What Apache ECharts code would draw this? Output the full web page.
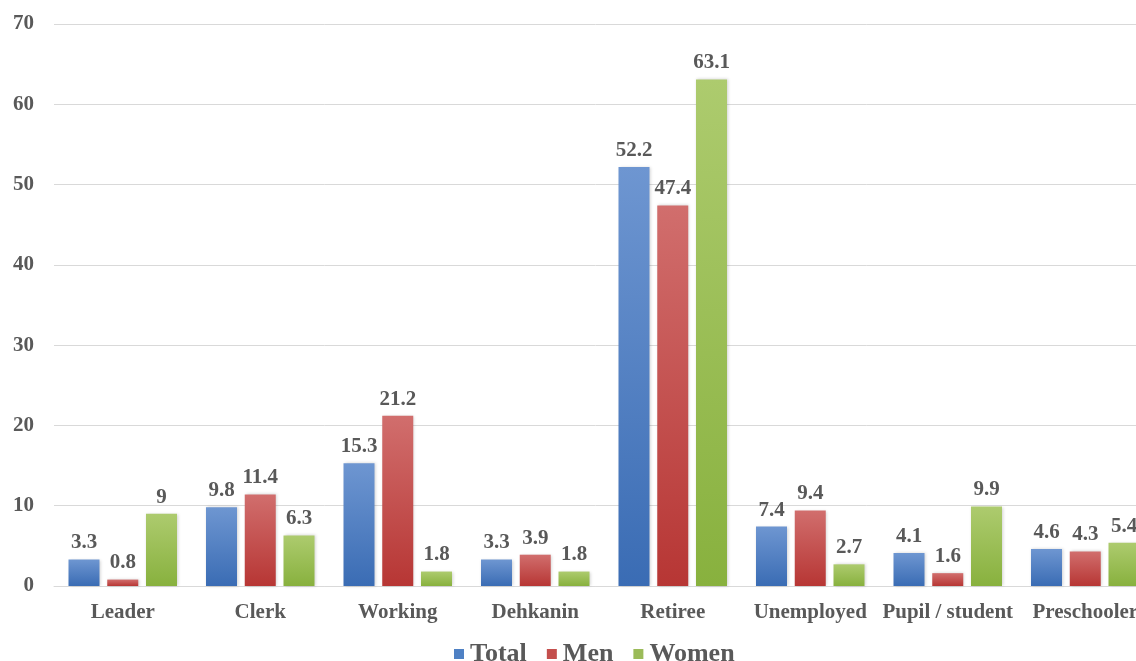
<!DOCTYPE html>
<html>
<head>
<meta charset="utf-8">
<script src="https://cdn.jsdelivr.net/npm/echarts@6/dist/echarts.min.js"></script>
<style>
  html, body { margin: 0; padding: 0; background: #fff; }
  #chart { width: 1136px; height: 661px; }
</style>
</head>
<body>
<div id="chart"></div>
<script>
const categories = ['Leader', 'Clerk', 'Working', 'Dehkanin', 'Retiree', 'Unemployed', 'Pupil / student', 'Preschooler'];
const totalValues = [3.3, 9.8, 15.3, 3.3, 52.2, 7.4, 4.1, 4.6];
const menValues = [0.8, 11.4, 21.2, 3.9, 47.4, 9.4, 1.6, 4.3];
const womenValues = [9, 6.3, 1.8, 1.8, 63.1, 2.7, 9.9, 5.4];
const seriesNames = ['Total', 'Men', 'Women'];

const textColor = '#595959';
const font = '"Liberation Serif", "Times New Roman", serif';

function grad(top, bottom) {
  return new echarts.graphic.LinearGradient(0, 0, 0, 1, [
    { offset: 0, color: top },
    { offset: 1, color: bottom },
  ]);
}

const fills = [
  grad('#6e96d1', '#3a6cb4'),
  grad('#d16e6d', '#b73634'),
  grad('#adcb6e', '#88b13e'),
];
const legendColors = ['#4f81c4', '#c44f4d', '#9bbb59'];

function makeSeries(name, data, i) {
  return {
    name: name,
    type: 'bar',
    data: data,
    barWidth: 31,
    barGap: '25%',
    itemStyle: {
      color: fills[i],
      shadowColor: 'rgba(0,0,0,0.18)',
      shadowBlur: 3,
      shadowOffsetX: 1,
      shadowOffsetY: 0,
    },
    label: {
      show: true,
      position: 'top',
      distance: 6,
      color: textColor,
      fontFamily: font,
      fontWeight: 'bold',
      fontSize: 21,
    },
  };
}

const chart = echarts.init(document.getElementById('chart'));
chart.setOption({
  animation: false,
  color: legendColors,
  legend: {
    data: seriesNames.map((n, i) => ({ name: n, itemStyle: { color: legendColors[i] } })),
    top: 636,
    left: 449,
    itemWidth: 10,
    itemHeight: 10,
    itemGap: 20,
    icon: 'rect',
    textStyle: {
      color: textColor,
      fontFamily: font,
      fontWeight: 'bold',
      fontSize: 26,
      padding: [0, 0, 0, 1],
    },
  },
  grid: {
    left: 54,
    right: -18,
    top: 24,
    bottom: 75,
    outerBoundsMode: 'none',
    containLabel: false,
  },
  xAxis: {
    type: 'category',
    data: categories,
    axisLine: { lineStyle: { color: '#d9d9d9', width: 1 } },
    axisTick: { show: false },
    axisLabel: {
      color: textColor,
      fontFamily: font,
      fontWeight: 'bold',
      fontSize: 21,
      margin: 16,
      interval: 0,
    },
  },
  yAxis: {
    type: 'value',
    min: 0,
    max: 70,
    interval: 10,
    axisLine: { show: false },
    axisTick: { show: false },
    splitLine: { lineStyle: { color: '#d9d9d9', width: 1 } },
    axisLabel: {
      color: textColor,
      fontFamily: font,
      fontWeight: 'bold',
      fontSize: 21,
      margin: 20,
    },
  },
  series: [
    makeSeries(seriesNames[0], totalValues, 0),
    makeSeries(seriesNames[1], menValues, 1),
    makeSeries(seriesNames[2], womenValues, 2),
  ],
});
</script>
</body>
</html>
